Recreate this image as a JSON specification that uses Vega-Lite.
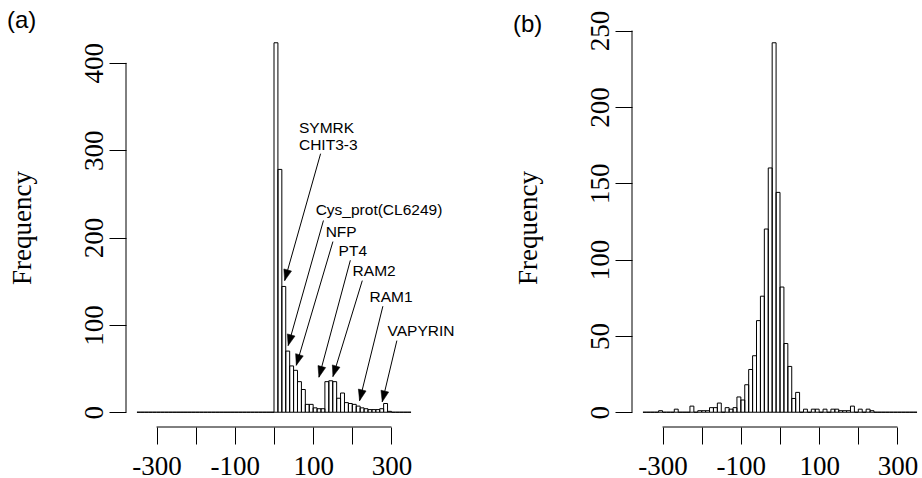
{
  "$schema": "https://vega.github.io/schema/vega-lite/v6.json",
  "background": "white",
  "padding": {"left": 7, "top": 9, "right": 0, "bottom": 0},
  "datasets": {
    "histA": [
      {"start": -350, "end": -340, "count": 0}, {"start": -340, "end": -330, "count": 0}, {"start": -330, "end": -320, "count": 0}, {"start": -320, "end": -310, "count": 0}, {"start": -310, "end": -300, "count": 0},
      {"start": -300, "end": -290, "count": 0}, {"start": -290, "end": -280, "count": 0}, {"start": -280, "end": -270, "count": 0}, {"start": -270, "end": -260, "count": 0}, {"start": -260, "end": -250, "count": 0},
      {"start": -250, "end": -240, "count": 0}, {"start": -240, "end": -230, "count": 0}, {"start": -230, "end": -220, "count": 0}, {"start": -220, "end": -210, "count": 0}, {"start": -210, "end": -200, "count": 0},
      {"start": -200, "end": -190, "count": 0}, {"start": -190, "end": -180, "count": 0}, {"start": -180, "end": -170, "count": 0}, {"start": -170, "end": -160, "count": 0}, {"start": -160, "end": -150, "count": 0},
      {"start": -150, "end": -140, "count": 0}, {"start": -140, "end": -130, "count": 0}, {"start": -130, "end": -120, "count": 0}, {"start": -120, "end": -110, "count": 0}, {"start": -110, "end": -100, "count": 0},
      {"start": -100, "end": -90, "count": 0}, {"start": -90, "end": -80, "count": 0}, {"start": -80, "end": -70, "count": 0}, {"start": -70, "end": -60, "count": 0}, {"start": -60, "end": -50, "count": 0},
      {"start": -50, "end": -40, "count": 0}, {"start": -40, "end": -30, "count": 0}, {"start": -30, "end": -20, "count": 0}, {"start": -20, "end": -10, "count": 0}, {"start": -10, "end": 0, "count": 0},
      {"start": 0, "end": 10, "count": 423}, {"start": 10, "end": 20, "count": 278}, {"start": 20, "end": 30, "count": 144}, {"start": 30, "end": 40, "count": 70}, {"start": 40, "end": 50, "count": 53},
      {"start": 50, "end": 60, "count": 48}, {"start": 60, "end": 70, "count": 35}, {"start": 70, "end": 80, "count": 26}, {"start": 80, "end": 90, "count": 9}, {"start": 90, "end": 100, "count": 9},
      {"start": 100, "end": 110, "count": 5}, {"start": 110, "end": 120, "count": 4}, {"start": 120, "end": 130, "count": 4}, {"start": 130, "end": 140, "count": 35}, {"start": 140, "end": 150, "count": 36},
      {"start": 150, "end": 160, "count": 35}, {"start": 160, "end": 170, "count": 16}, {"start": 170, "end": 180, "count": 22}, {"start": 180, "end": 190, "count": 11}, {"start": 190, "end": 200, "count": 10},
      {"start": 200, "end": 210, "count": 9}, {"start": 210, "end": 220, "count": 7}, {"start": 220, "end": 230, "count": 5}, {"start": 230, "end": 240, "count": 4}, {"start": 240, "end": 250, "count": 3},
      {"start": 250, "end": 260, "count": 3}, {"start": 260, "end": 270, "count": 3}, {"start": 270, "end": 280, "count": 4}, {"start": 280, "end": 290, "count": 10}, {"start": 290, "end": 300, "count": 1},
      {"start": 300, "end": 310, "count": 0}, {"start": 310, "end": 320, "count": 0}, {"start": 320, "end": 330, "count": 0}, {"start": 330, "end": 340, "count": 0}, {"start": 340, "end": 350, "count": 0}
    ],
    "histB": [
      {"start": -350, "end": -340, "count": 0}, {"start": -340, "end": -330, "count": 0}, {"start": -330, "end": -320, "count": 0}, {"start": -320, "end": -310, "count": 0}, {"start": -310, "end": -300, "count": 1},
      {"start": -300, "end": -290, "count": 0}, {"start": -290, "end": -280, "count": 0}, {"start": -280, "end": -270, "count": 0}, {"start": -270, "end": -260, "count": 2}, {"start": -260, "end": -250, "count": 0},
      {"start": -250, "end": -240, "count": 0}, {"start": -240, "end": -230, "count": 0}, {"start": -230, "end": -220, "count": 4}, {"start": -220, "end": -210, "count": 0}, {"start": -210, "end": -200, "count": 1},
      {"start": -200, "end": -190, "count": 1}, {"start": -190, "end": -180, "count": 1}, {"start": -180, "end": -170, "count": 3}, {"start": -170, "end": -160, "count": 3}, {"start": -160, "end": -150, "count": 6},
      {"start": -150, "end": -140, "count": 0}, {"start": -140, "end": -130, "count": 3}, {"start": -130, "end": -120, "count": 2}, {"start": -120, "end": -110, "count": 3}, {"start": -110, "end": -100, "count": 10},
      {"start": -100, "end": -90, "count": 8}, {"start": -90, "end": -80, "count": 18}, {"start": -80, "end": -70, "count": 28}, {"start": -70, "end": -60, "count": 37}, {"start": -60, "end": -50, "count": 60},
      {"start": -50, "end": -40, "count": 76}, {"start": -40, "end": -30, "count": 120}, {"start": -30, "end": -20, "count": 160}, {"start": -20, "end": -10, "count": 242}, {"start": -10, "end": 0, "count": 144},
      {"start": 0, "end": 10, "count": 82}, {"start": 10, "end": 20, "count": 45}, {"start": 20, "end": 30, "count": 30}, {"start": 30, "end": 40, "count": 9}, {"start": 40, "end": 50, "count": 13},
      {"start": 50, "end": 60, "count": 0}, {"start": 60, "end": 70, "count": 2}, {"start": 70, "end": 80, "count": 0}, {"start": 80, "end": 90, "count": 2}, {"start": 90, "end": 100, "count": 2},
      {"start": 100, "end": 110, "count": 0}, {"start": 110, "end": 120, "count": 2}, {"start": 120, "end": 130, "count": 0}, {"start": 130, "end": 140, "count": 2}, {"start": 140, "end": 150, "count": 2},
      {"start": 150, "end": 160, "count": 1}, {"start": 160, "end": 170, "count": 1}, {"start": 170, "end": 180, "count": 1}, {"start": 180, "end": 190, "count": 4}, {"start": 190, "end": 200, "count": 0},
      {"start": 200, "end": 210, "count": 2}, {"start": 210, "end": 220, "count": 0}, {"start": 220, "end": 230, "count": 2}, {"start": 230, "end": 240, "count": 1}, {"start": 240, "end": 250, "count": 0},
      {"start": 250, "end": 260, "count": 0}, {"start": 260, "end": 270, "count": 0}, {"start": 270, "end": 280, "count": 0}, {"start": 280, "end": 290, "count": 0}, {"start": 290, "end": 300, "count": 0},
      {"start": 300, "end": 310, "count": 0}, {"start": 310, "end": 320, "count": 0}, {"start": 320, "end": 330, "count": 0}, {"start": 330, "end": 340, "count": 0}, {"start": 340, "end": 350, "count": 0}
    ],
    "arrowsA": [
      {"gene": "SYMRK/CHIT3-3", "xt": 119, "yt": 296, "xh": 27.3, "yh": 150.7},
      {"gene": "Cys_prot(CL6249)", "xt": 126.3, "yt": 219.5, "xh": 36.2, "yh": 76.3},
      {"gene": "NFP", "xt": 150.5, "yt": 195.4, "xh": 57, "yh": 53.7},
      {"gene": "PT4", "xt": 195, "yt": 174, "xh": 114.8, "yh": 40.1},
      {"gene": "RAM2", "xt": 225.5, "yt": 150.7, "xh": 150.5, "yh": 40.8},
      {"gene": "RAM1", "xt": 278.1, "yt": 121.4, "xh": 218.6, "yh": 13.2},
      {"gene": "VAPYRIN", "xt": 313.8, "yt": 82, "xh": 276.5, "yh": 11.9}
    ],
    "labelsA": [
      {"label": "SYMRK", "x": 63.8, "y": 325.7},
      {"label": "CHIT3-3", "x": 63.8, "y": 305.6},
      {"label": "Cys_prot(CL6249)", "x": 106.4, "y": 231.7},
      {"label": "NFP", "x": 131.9, "y": 206},
      {"label": "PT4", "x": 165, "y": 184.2},
      {"label": "RAM2", "x": 200.8, "y": 161.3},
      {"label": "RAM1", "x": 244.1, "y": 131.5},
      {"label": "VAPYRIN", "x": 290, "y": 92.6}
    ]
  },
  "hconcat": [
    {
      "width": 296,
      "height": 399,
      "title": {"text": "(a)", "anchor": "start", "frame": "group", "dx": -119, "offset": -24.3, "baseline": "alphabetic", "font": "Liberation Sans", "fontSize": 24, "fontWeight": "normal", "color": "black"},
      "layer": [
        {
          "data": {"name": "histA"},
          "mark": {"type": "rect", "filled": false, "stroke": "black", "strokeWidth": 1},
          "encoding": {
            "x": {"field": "start", "type": "quantitative", "scale": {"domain": [-378, 378], "nice": false, "zero": false},
                  "axis": {"values": [-300, -200, -100, 0, 100, 200, 300], "labelExpr": "datum.value % 200 == 0 ? '' : '' + datum.value", "title": null}},
            "x2": {"field": "end"},
            "y": {"field": "count", "type": "quantitative", "scale": {"domain": [-16.92, 439.92], "nice": false, "zero": false},
                  "axis": {"values": [0, 100, 200, 300, 400], "title": "Frequency"}},
            "y2": {"datum": 0}
          }
        },
        {
          "data": {"values": [{"x": -378, "y": 0, "y2": 400}]},
          "mark": {"type": "rule", "color": "black", "strokeWidth": 1},
          "encoding": {"x": {"field": "x", "type": "quantitative"}, "y": {"field": "y", "type": "quantitative"}, "y2": {"field": "y2"}}
        },
        {
          "data": {"values": [{"x": -300, "x2": 300, "y": -16.92}]},
          "mark": {"type": "rule", "color": "black", "strokeWidth": 1},
          "encoding": {"x": {"field": "x", "type": "quantitative"}, "x2": {"field": "x2"}, "y": {"field": "y", "type": "quantitative"}}
        },
        {
          "data": {"name": "arrowsA"},
          "mark": {"type": "rule", "color": "black", "strokeWidth": 1},
          "encoding": {"x": {"field": "xt", "type": "quantitative"}, "y": {"field": "yt", "type": "quantitative"}, "x2": {"field": "xh"}, "y2": {"field": "yh"}}
        },
        {
          "data": {"name": "arrowsA"},
          "transform": [{"calculate": "atan2(-(datum.xh - datum.xt) * 0.39153, (datum.yt - datum.yh) * 0.87339) * 180 / PI", "as": "ang"}],
          "mark": {"type": "point", "shape": "M0,0L-0.36,-1L0.36,-1Z", "filled": true, "fill": "black", "stroke": "black", "strokeWidth": 0.5, "opacity": 1, "size": 484},
          "encoding": {"x": {"field": "xh", "type": "quantitative"}, "y": {"field": "yh", "type": "quantitative"}, "angle": {"field": "ang", "type": "quantitative", "scale": null}}
        },
        {
          "data": {"name": "labelsA"},
          "mark": {"type": "text", "align": "left", "baseline": "middle", "font": "Liberation Sans", "fontSize": 15.5, "color": "black"},
          "encoding": {"x": {"field": "x", "type": "quantitative"}, "y": {"field": "y", "type": "quantitative"}, "text": {"field": "label"}}
        }
      ]
    },
    {
      "width": 296,
      "height": 399,
      "title": {"text": "(b)", "anchor": "start", "frame": "group", "dx": -119, "offset": -45.5, "baseline": "alphabetic", "font": "Liberation Sans", "fontSize": 24, "fontWeight": "normal", "color": "black"},
      "layer": [
        {
          "data": {"name": "histB"},
          "mark": {"type": "rect", "filled": false, "stroke": "black", "strokeWidth": 1},
          "encoding": {
            "x": {"field": "start", "type": "quantitative", "scale": {"domain": [-378, 378], "nice": false, "zero": false},
                  "axis": {"values": [-300, -200, -100, 0, 100, 200, 300], "labelExpr": "datum.value % 200 == 0 ? '' : '' + datum.value", "title": null}},
            "x2": {"field": "end"},
            "y": {"field": "count", "type": "quantitative", "scale": {"domain": [-9.68, 251.68], "nice": false, "zero": false},
                  "axis": {"values": [0, 50, 100, 150, 200, 250], "title": "Frequency"}},
            "y2": {"datum": 0}
          }
        },
        {
          "data": {"values": [{"x": -378, "y": 0, "y2": 250}]},
          "mark": {"type": "rule", "color": "black", "strokeWidth": 1},
          "encoding": {"x": {"field": "x", "type": "quantitative"}, "y": {"field": "y", "type": "quantitative"}, "y2": {"field": "y2"}}
        },
        {
          "data": {"values": [{"x": -300, "x2": 300, "y": -9.68}]},
          "mark": {"type": "rule", "color": "black", "strokeWidth": 1},
          "encoding": {"x": {"field": "x", "type": "quantitative"}, "x2": {"field": "x2"}, "y": {"field": "y", "type": "quantitative"}}
        }
      ]
    }
  ],
  "spacing": 210,
  "bounds": "flush",
  "config": {
    "view": {"stroke": null},
    "axis": {
      "grid": false, "domain": false, "ticks": true, "tickColor": "black", "tickWidth": 1, "tickSize": 17,
      "labelColor": "black", "labelFont": "Liberation Serif", "labelFontSize": 27, "labelFlush": false, "labelOverlap": false, "labelBound": false,
      "titleFont": "Liberation Serif", "titleFontSize": 27, "titleFontWeight": "normal", "titleColor": "black"
    },
    "axisX": {"labelPadding": 9},
    "axisY": {"labelAngle": -90, "labelAlign": "center", "labelBaseline": "alphabetic", "labelPadding": 7, "titlePadding": 44}
  }
}
